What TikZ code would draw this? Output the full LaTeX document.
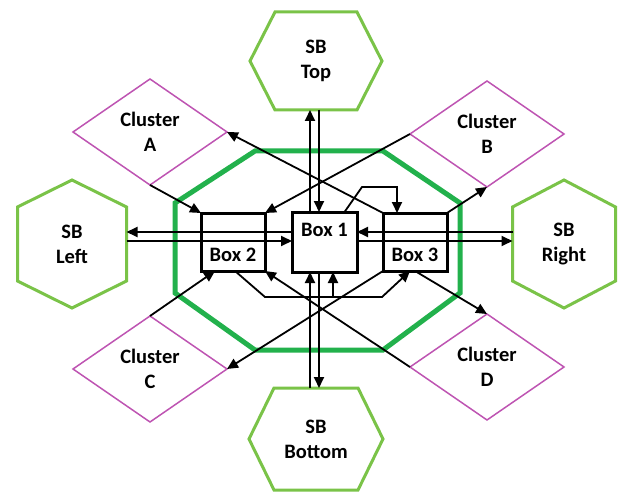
\documentclass[tikz,border=0pt]{standalone}
\usepackage{fontspec}
\setmainfont{Carlito}
\usetikzlibrary{shapes.geometric,arrows.meta,calc}
\definecolor{octgreen}{RGB}{34,177,76}
\definecolor{hexgreen}{RGB}{122,195,72}
\definecolor{clpink}{RGB}{190,84,178}
\begin{document}
\begin{tikzpicture}[x=1pt,y=-1pt,
  every node/.style={font=\fontsize{20.5}{25}\selectfont\bfseries, align=center},
  sbhex/.style={inner sep=0pt, outer sep=0pt},
  hexline/.style={draw=hexgreen, line width=3pt, line join=miter},
  octline/.style={draw=octgreen, line width=5pt, line join=miter},
  cluster/.style={shape=diamond, draw=clpink, line width=1.5pt, inner sep=0pt, outer sep=0pt,
     shape aspect=1.45, minimum width=154pt, minimum height=106pt},
  boxst/.style={draw=black, line width=3pt, inner sep=0pt, outer sep=0pt},
  arr/.style={line width=1.8pt, -{Triangle[length=11pt,width=10pt]}}]
\useasboundingbox (0,0) rectangle (621,492);

% octagon
\draw[octline] (255,151) -- (383,151) -- (460,203) -- (460,293) -- (383,350) -- (255,350) -- (175,293) -- (175,203) -- cycle;

% SB hexagons
\node[sbhex, minimum width=132pt, minimum height=98pt] (sbt) at (316,61) {SB\\Top};
\node[sbhex, minimum width=134pt, minimum height=102pt] (sbb) at (316,439) {SB\\Bottom};
\node[sbhex, minimum width=109pt, minimum height=128pt] (sbl) at (72,244) {SB\\Left};
\node[sbhex, minimum width=103pt, minimum height=128pt] (sbr) at (564,244) {SB\\Right};
\draw[hexline] (sbt.west) -- ([xshift=25pt]sbt.north west) -- ([xshift=-25pt]sbt.north east) -- (sbt.east) -- ([xshift=-25pt]sbt.south east) -- ([xshift=25pt]sbt.south west) -- cycle;
\draw[hexline] (sbb.west) -- ([xshift=25pt]sbb.north west) -- ([xshift=-25pt]sbb.north east) -- (sbb.east) -- ([xshift=-25pt]sbb.south east) -- ([xshift=25pt]sbb.south west) -- cycle;
\draw[hexline] (sbl.north) -- ([yshift=-27pt]sbl.north east) -- ([yshift=27pt]sbl.south east) -- (sbl.south) -- ([yshift=27pt]sbl.south west) -- ([yshift=-27pt]sbl.north west) -- cycle;
\draw[hexline] (sbr.north) -- ([yshift=-27pt]sbr.north east) -- ([yshift=27pt]sbr.south east) -- (sbr.south) -- ([yshift=27pt]sbr.south west) -- ([yshift=-27pt]sbr.north west) -- cycle;

% clusters
\node[cluster] (ca) at (150,132) {Cluster\\A};
\node[cluster] (cb) at (487,134) {Cluster\\B};
\node[cluster] (cc) at (150,369) {Cluster\\C};
\node[cluster] (cd) at (487,367) {Cluster\\D};

% boxes
\node[boxst, minimum width=65pt, minimum height=60pt, label={[yshift=12pt]center:Box 1}] (b1) at (324.5,242) {};
\node[boxst, minimum width=64pt, minimum height=58pt, label={[yshift=-13pt]center:Box 2}] (b2) at (233,242) {};
\node[boxst, minimum width=64pt, minimum height=58pt, label={[yshift=-13pt]center:Box 3}] (b3) at (415,242) {};

% vertical connectors
\coordinate (t1) at ([xshift=-6pt]sbt.south);
\coordinate (t2) at ([xshift=3pt]sbt.south);
\draw[arr] (t1 |- b1.north) -- (t1);
\draw[arr] (t2) -- (t2 |- b1.north);
\coordinate (u1) at ([xshift=-6pt]sbb.north);
\coordinate (u2) at ([xshift=3pt]sbb.north);
\draw[arr] (u1) -- (u1 |- b1.south);
\draw[arr] (u2 |- b1.south) -- (u2);

% horizontal connectors
\coordinate (h1) at ([yshift=10pt]b1.west);
\coordinate (h2) at ([yshift=1pt]b1.west);
\coordinate (h3) at ([yshift=10pt]b1.east);
\coordinate (h4) at ([yshift=1pt]b1.east);
\draw[arr] (h1) -- (h1 -| sbl.east);
\draw[arr] (h2 -| sbl.east) -- (h2);
\draw[arr] (h3 -| sbr.west) -- (h3);
\draw[arr] (h4) -- (h4 -| sbr.west);

% box 2 to box 3 / box 1
\coordinate (j1) at (265,297);
\coordinate (j2) at (382,297);
\coordinate (j3) at (333,297);
\draw[arr] ([xshift=2pt]b2.south) -- (j1) -- (j2) -- ([xshift=-5pt]b3.south);
\draw[arr] (j3) -- (j3 |- b1.south);

% box 1 to box 3 loop
\coordinate (k1) at (362,187);
\draw[arr] ([xshift=20pt]b1.north) -- (k1) -| ([xshift=-18pt]b3.north);

% cluster connectors
\draw[arr] (ca.south) -- (b2.north west);
\draw[arr] (b3.north west) -- (ca.east);
\draw[arr] (cb.west) -- (b2.north east);
\draw[arr] (b3.north east) -- (cb.south);
\draw[arr] (cc.north) -- ([xshift=-18pt]b2.south);
\draw[arr] (b3.south west) -- (cc.east);
\draw[arr] (cd.west) -- (b2.south east);
\draw[arr] (b3.south) -- (cd.north);
\end{tikzpicture}
\end{document}
